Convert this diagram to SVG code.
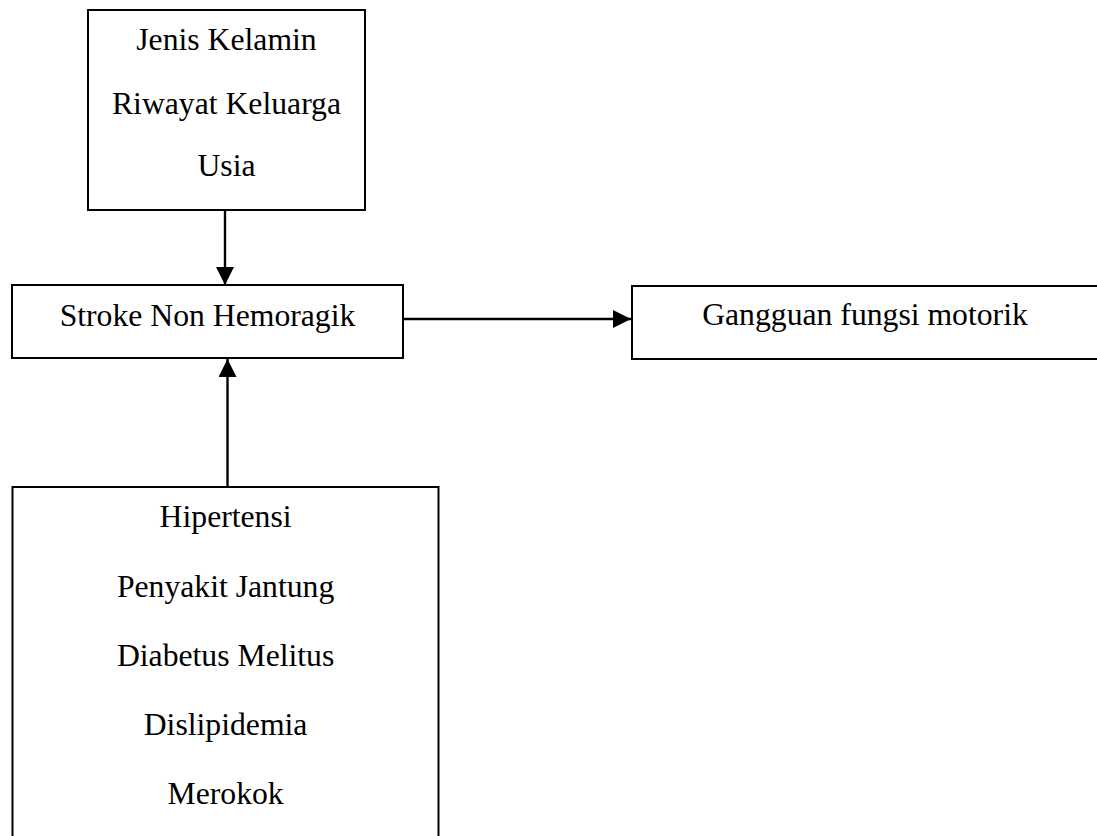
<svg xmlns="http://www.w3.org/2000/svg" width="1097" height="836" viewBox="0 0 1097 836">
  <style>
    .box { fill: #ffffff; stroke: #000000; stroke-width: 2; }
    .lbl { font-family: "Liberation Serif", "Times New Roman", serif; font-size: 31.7px; fill: #000000; text-anchor: middle; }
    .conn { stroke: #000000; stroke-width: 2.4; fill: none; }
  </style>
  <defs>
    <marker id="arrow" markerUnits="userSpaceOnUse" markerWidth="18" markerHeight="18" viewBox="0 0 16 16" refX="16" refY="8" orient="auto">
      <polygon points="0,0 16,8 0,16" fill="#000000"/>
    </marker>
  </defs>
  <rect width="1097" height="836" fill="#ffffff"/>

  <g id="node-faktor-tidak-terubah">
    <rect class="box" x="88" y="10" width="277" height="200"/>
    <text class="lbl" x="226.5" y="50">Jenis Kelamin</text>
    <text class="lbl" x="226.5" y="114">Riwayat Keluarga</text>
    <text class="lbl" x="226.5" y="176">Usia</text>
  </g>

  <g id="node-stroke">
    <rect class="box" x="12" y="285" width="391" height="73"/>
    <text class="lbl" x="207.5" y="326">Stroke Non Hemoragik</text>
  </g>

  <g id="node-gangguan">
    <rect class="box" x="632" y="286" width="468" height="73"/>
    <text class="lbl" x="865" y="325">Gangguan fungsi motorik</text>
  </g>

  <g id="node-faktor-terubah">
    <rect class="box" x="12.5" y="487" width="426" height="360"/>
    <text class="lbl" x="225.6" y="527">Hipertensi</text>
    <text class="lbl" x="225.6" y="597">Penyakit Jantung</text>
    <text class="lbl" x="225.6" y="666">Diabetus Melitus</text>
    <text class="lbl" x="225.6" y="735">Dislipidemia</text>
    <text class="lbl" x="225.6" y="804">Merokok</text>
  </g>

  <g id="connectors">
    <line class="conn" x1="225" y1="211" x2="225" y2="285" marker-end="url(#arrow)"/>
    <line class="conn" x1="404" y1="319" x2="631" y2="319" marker-end="url(#arrow)"/>
    <line class="conn" x1="227.5" y1="486" x2="227.5" y2="359" marker-end="url(#arrow)"/>
  </g>
</svg>
